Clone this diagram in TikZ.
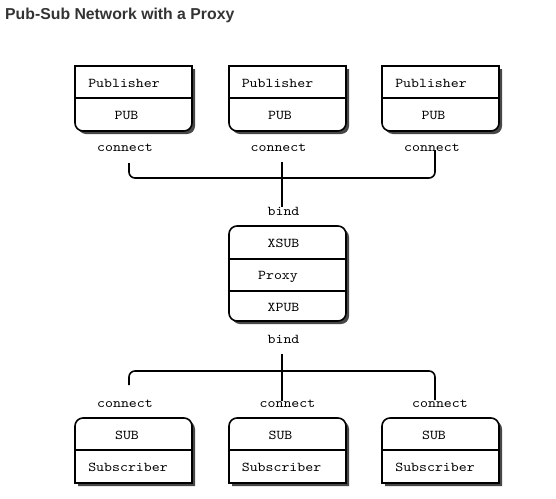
\documentclass[tikz,border=0pt]{standalone}
\usepackage{fontspec}
\usepackage{tikz}
\newfontfamily\titlefont{Liberation Sans}
\newfontfamily\boxfont{lmmono10-regular.otf}[FakeStretch=1.12]
\definecolor{titlegray}{HTML}{333333}

% box outlines, in pixel units (y grows downwards)
\newcommand{\pubpath}[4]{(#1,#2) -- (#3,#2) -- (#3,#4-8) arc (0:90:8) -- (#1+8,#4) arc (90:180:8) -- cycle}
\newcommand{\subpath}[4]{(#1,#4) -- (#1,#2+8) arc (180:270:8) -- (#3-8,#2) arc (270:360:8) -- (#3,#4) -- cycle}

\tikzset{
  boxline/.style={line width=1.6pt, fill=white},
  shadowfill/.style={fill=black!72, xshift=3pt, yshift=-3pt},
  bus/.style={line width=1.6pt, rounded corners=6pt},
  txt/.style={anchor=base, inner sep=0pt, font=\boxfont\fontsize{13.5}{13.5}\selectfont}
}

\begin{document}
\begin{tikzpicture}[x=1pt,y=-1pt]
        \useasboundingbox (0,0) rectangle (556,498);

        \node[anchor=base west, inner sep=0pt, text=titlegray,
              font=\titlefont\bfseries\fontsize{15.8}{16}\selectfont] (title) at (5,19.5) {Pub-Sub Network with a Proxy};

        % publishers
        \fill[shadowfill] \pubpath{75}{66}{192}{131};
        \draw[boxline] \pubpath{75}{66}{192}{131};
        \draw[line width=1.6pt] (75,98) -- (192,98);
        \fill[shadowfill] \pubpath{229}{66}{346}{131};
        \draw[boxline] \pubpath{229}{66}{346}{131};
        \draw[line width=1.6pt] (229,98) -- (346,98);
        \fill[shadowfill] \pubpath{382}{66}{499}{131};
        \draw[boxline] \pubpath{382}{66}{499}{131};
        \draw[line width=1.6pt] (382,98) -- (499,98);

        \node[txt] (pubA) at (124,87) {Publisher};
        \node[txt] (pubB) at (277.5,87) {Publisher};
        \node[txt] (pubC) at (431,87) {Publisher};
        \node[txt] (sockA) at (126.5,119) {PUB};
        \node[txt] (sockB) at (280,119) {PUB};
        \node[txt] (sockC) at (433.5,119) {PUB};
        \node[txt] (conA) at (125,151) {connect};
        \node[txt] (conB) at (278.5,151) {connect};
        \node[txt] (conC) at (432,151) {connect};

        % proxy
        \fill[shadowfill, rounded corners=8pt] (229,226) rectangle (346,321);
        \draw[boxline, rounded corners=8pt] (229,226) rectangle (346,321);
        \draw[line width=1.6pt] (229,259) -- (346,259);
        \draw[line width=1.6pt] (229,291) -- (346,291);

        \node[txt] (bindIn) at (283.5,215) {bind};
        \node[txt] (xsub) at (283.5,247) {XSUB};
        \node[txt] (proxy) at (278,279) {Proxy};
        \node[txt] (xpub) at (283.5,311) {XPUB};
        \node[txt] (bindOut) at (283.5,343) {bind};

        % subscribers
        \fill[shadowfill] \subpath{75}{418}{192}{483};
        \draw[boxline] \subpath{75}{418}{192}{483};
        \draw[line width=1.6pt] (75,450) -- (192,450);
        \fill[shadowfill] \subpath{229}{418}{346}{483};
        \draw[boxline] \subpath{229}{418}{346}{483};
        \draw[line width=1.6pt] (229,450) -- (346,450);
        \fill[shadowfill] \subpath{382}{418}{499}{483};
        \draw[boxline] \subpath{382}{418}{499}{483};
        \draw[line width=1.6pt] (382,450) -- (499,450);

        \node[txt] (dialA) at (125,407) {connect};
        \node[txt] (dialB) at (287.5,407) {connect};
        \node[txt] (dialC) at (440,407) {connect};
        \node[txt] (subA) at (127,439) {SUB};
        \node[txt] (subB) at (280.5,439) {SUB};
        \node[txt] (subC) at (434,439) {SUB};
        \node[txt] (subrA) at (128,471) {Subscriber};
        \node[txt] (subrB) at (281.5,471) {Subscriber};
        \node[txt] (subrC) at (435,471) {Subscriber};

        % bus ends
        \coordinate (upA) at (129,163);
        \coordinate (upC) at (435,150);
        \coordinate (upMid) at (282,162);
        \coordinate (downMid) at (282,207);
        \coordinate (lowMid) at (282,354);
        \coordinate (lowEnd) at (282,401);
        \coordinate (lowA) at (129,385);
        \coordinate (lowC) at (435,400);

        \draw[bus] (upA) |- (282,178) -| (upC);
        \draw[line width=1.6pt] (upMid) -- (downMid);
        \draw[bus] (lowA) |- (282,371) -| (lowC);
        \draw[line width=1.6pt] (lowMid) -- (lowEnd);

    \end{tikzpicture}
\end{document}
